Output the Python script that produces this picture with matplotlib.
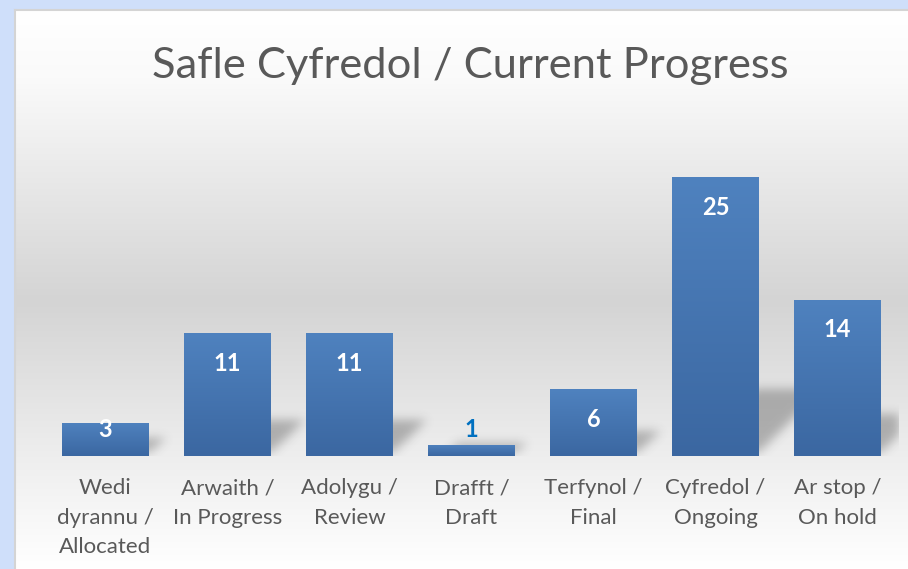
import numpy as np
import matplotlib
matplotlib.use("Agg")
from matplotlib import pyplot as plt
from matplotlib.colors import LinearSegmentedColormap

categories = ["Wedi\ndyrannu /\nAllocated", "Arwaith /\nIn Progress", "Adolygu /\nReview",
              "Drafft /\nDraft", "Terfynol /\nFinal", "Cyfredol /\nOngoing", "Ar stop /\nOn hold"]
values = [3, 11, 11, 1, 6, 25, 14]
title = "Safle Cyfredol / Current Progress"

plt.rcParams['font.family'] = ['Lato', 'DejaVu Sans']

fig = plt.figure(figsize=(9.08, 5.69), dpi=100)
fig.patch.set_facecolor('#cfdffa')

# chart area with vertical grey gradient
bg = fig.add_axes([15 / 908, 0, 893 / 908, 559 / 569])
bg_cmap = LinearSegmentedColormap.from_list(
    'bg', [(0, '#ffffff'), (0.12, '#fafafa'), (0.52, '#d4d4d4'), (0.8, '#eeeeee'), (1, '#ffffff')])
bg.imshow(np.linspace(0, 1, 256).reshape(-1, 1), aspect='auto', cmap=bg_cmap,
          extent=[0, 1, 1, 0])
bg.set_xlim(0, 1)
bg.set_ylim(1, 0)
bg.axis('off')
fig.add_artist(plt.Line2D([15 / 908, 1], [559 / 569, 559 / 569], color='#d4d4d4', lw=1.5))
fig.add_artist(plt.Line2D([15 / 908, 15 / 908], [0, 559 / 569], color='#d4d4d4', lw=1.5))

ax = fig.add_axes([44.5 / 908, 1 - 456 / 569, 854 / 908, (456 - 143.5) / 569])
ax.patch.set_alpha(0)
x = np.arange(len(values))
width = 0.713
ymax = 28

# soft shadows cast behind the bars: rasterise sheared rectangles, then blur
nx, ny = 854, 312
gx = (np.arange(nx) + 0.5) / nx * len(values) - 0.5
gy = (np.arange(ny) + 0.5) / ny * ymax
mask = np.zeros((ny, nx))
for xi, v in zip(x, values):
    y0 = 0.35
    h = 0.2 * v + 1.0
    dx = 0.085 * h
    for r, yy in enumerate(gy):
        if y0 <= yy <= h:
            t = (yy - y0) / (h - y0)
            a, b = xi - width / 2 + 0.15 + t * dx, xi + width / 2 + t * dx
            mask[r, (gx >= a) & (gx <= b)] = 1.0
sig = 5.0
kx = np.arange(-15, 16)
kern = np.exp(-kx ** 2 / (2 * sig ** 2))
kern /= kern.sum()
mask = np.apply_along_axis(lambda m: np.convolve(m, kern, mode='same'), 1, mask)
mask = np.apply_along_axis(lambda m: np.convolve(m, kern, mode='same'), 0, mask)
shadow = np.zeros((ny, nx, 4))
shadow[..., :3] = 0.2
shadow[..., 3] = mask * 0.33
ax.imshow(shadow, origin='lower', aspect='auto', extent=[-0.5, len(values) - 0.5, 0, ymax],
          zorder=1, interpolation='bilinear')

bar_cmap = LinearSegmentedColormap.from_list('bar', ['#3b67a1', '#4f82bf'])
bars = ax.bar(x, values, width=width, color='#4575b1', zorder=2)
grad = np.linspace(0, 1, 256).reshape(-1, 1)
for b in bars:
    im = ax.imshow(grad, aspect='auto', cmap=bar_cmap, origin='lower',
                   extent=[b.get_x(), b.get_x() + b.get_width(), 0, b.get_height()], zorder=3)
    im.set_clip_path(b)

for xi, v in zip(x, values):
    ly = max(v - 2.7, 2.4)
    col = 'white' if v > 2 else '#0070c0'
    ax.text(xi, ly, str(v), ha='center', va='center', color=col, fontsize=17,
            fontweight='bold', zorder=4)

ax.set_xlim(-0.5, len(values) - 0.5)
ax.set_ylim(0, ymax)
ax.set_xticks(x)
ax.set_xticklabels(categories, fontsize=16, color='#595959', linespacing=1.58)
ax.tick_params(axis='x', length=0, pad=16)
ax.set_yticks([])
for s in ax.spines.values():
    s.set_visible(False)

fig.text(470 / 908, 1 - 66 / 569, title, ha='center', va='center', fontsize=31.3, color='#595959')

fig.savefig('out.png', dpi=100)
